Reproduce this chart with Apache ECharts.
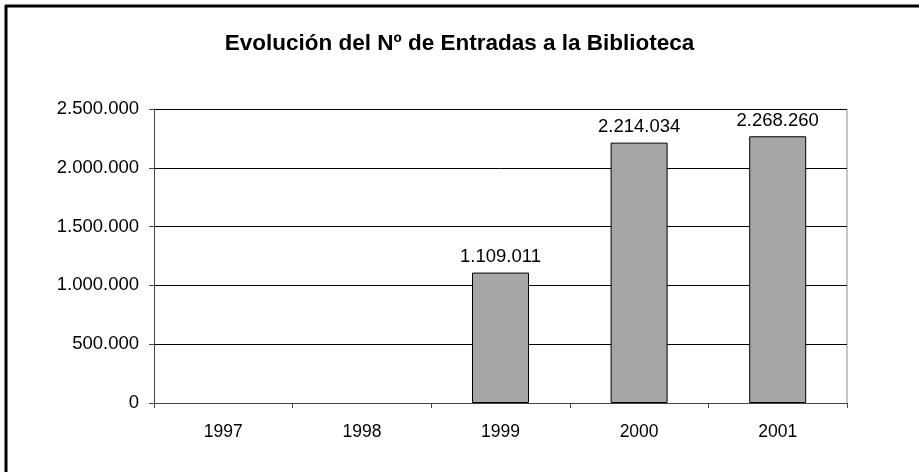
<!DOCTYPE html>
<html>
<head>
<meta charset="utf-8">
<script src="https://cdn.jsdelivr.net/npm/echarts@6/dist/echarts.min.js"></script>
<style>
  html, body { margin: 0; padding: 0; background: #fff; }
  #chart { width: 919px; height: 472px; }
</style>
</head>
<body>
<div id="chart"></div>
<script>
var years = ['1997', '1998', '1999', '2000', '2001'];
var entradas = [null, null, 1109011, 2214034, 2268260];
var yTicks = [0, 500000, 1000000, 1500000, 2000000, 2500000];

function formatDots(v) {
    return String(v).replace(/\B(?=(\d{3})+(?!\d))/g, '.');
}

function drawChart() {
    var chart = echarts.init(document.getElementById('chart'));
    var font = 'Liberation Sans, Arial, sans-serif';
    var option = {
        animation: false,
        backgroundColor: '#fff',
        textStyle: { fontFamily: font },
        title: {
            text: 'Evolución del Nº de Entradas a la Biblioteca',
            left: 'center',
            top: 27,
            textStyle: { fontFamily: font, fontSize: 22.5, fontWeight: 'bold', color: '#000' }
        },
        graphic: [
            { type: 'line', shape: { x1: 5, y1: 6, x2: 919, y2: 6 }, style: { stroke: '#000', lineWidth: 3 } },
            { type: 'line', shape: { x1: 6, y1: 5, x2: 6, y2: 472 }, style: { stroke: '#000', lineWidth: 3 } },
            { type: 'line', shape: { x1: 847, y1: 109, x2: 847, y2: 403 }, style: { stroke: '#8c8c8c', lineWidth: 1 } }
        ],
        grid: { left: 154, right: 72, top: 109, bottom: 69, containLabel: false },
        xAxis: {
            type: 'category',
            data: years,
            axisLine: { lineStyle: { color: '#444', width: 1 } },
            axisTick: { show: true, length: 5, inside: false, lineStyle: { color: '#444' } },
            axisLabel: { color: '#000', fontSize: 17.5, margin: 20, fontFamily: font }
        },
        yAxis: {
            type: 'value',
            min: yTicks[0],
            max: yTicks[yTicks.length - 1],
            interval: yTicks[1] - yTicks[0],
            axisLine: { show: true, lineStyle: { color: '#444', width: 1 } },
            axisTick: { show: true, length: 5, lineStyle: { color: '#444' } },
            axisLabel: { color: '#000', fontSize: 18.5, margin: 15, fontFamily: font, formatter: formatDots },
            splitLine: { show: true, lineStyle: { color: '#000', width: 1 } }
        },
        series: [
            {
                type: 'bar',
                data: entradas,
                barWidth: 57,
                itemStyle: { color: '#a6a6a6', borderColor: '#000', borderWidth: 1 },
                label: {
                    show: true,
                    position: 'top',
                    distance: 6,
                    color: '#000',
                    fontSize: 18.5,
                    fontFamily: font,
                    formatter: function (p) { return formatDots(p.value); }
                }
            }
        ]
    };
    chart.setOption(option);
}

drawChart();
</script>
</body>
</html>
